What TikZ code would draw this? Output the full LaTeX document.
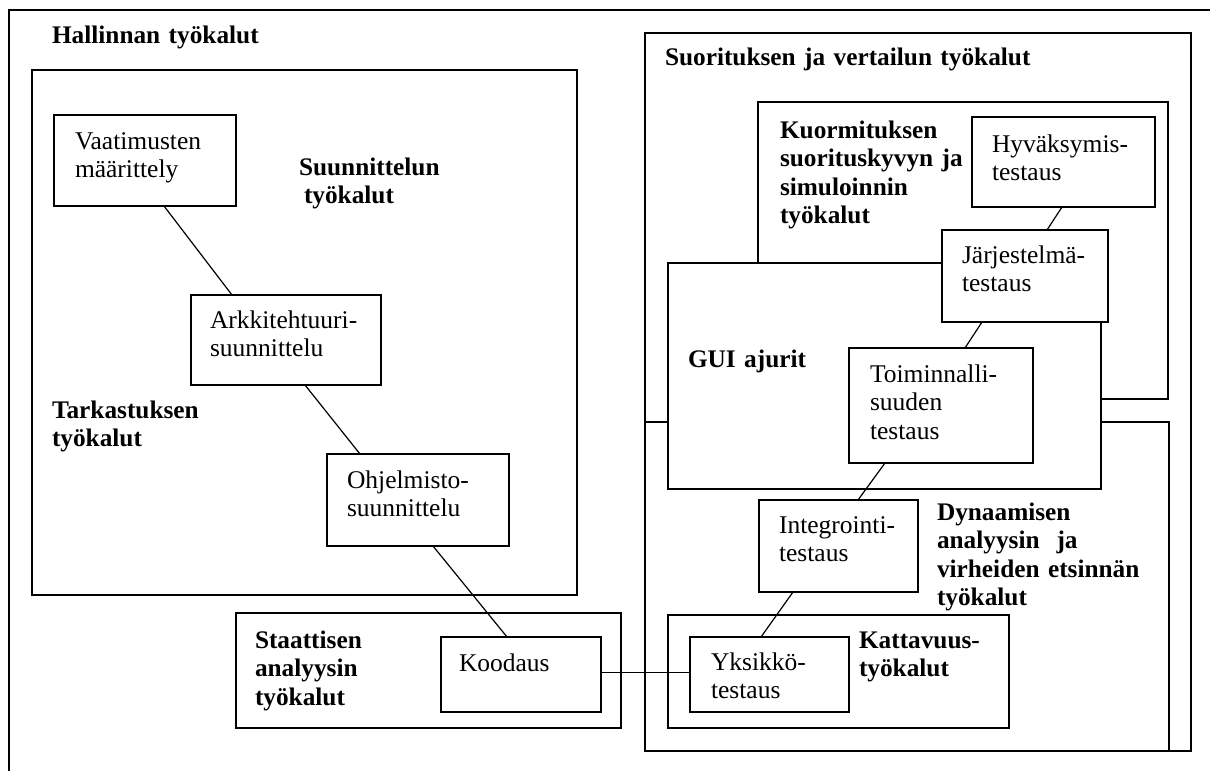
\documentclass[tikz,border=0pt]{standalone}
\usepackage{fontspec}
\setmainfont{Liberation Serif}
\begin{document}
\begin{tikzpicture}[x=1pt,y=-1pt,
  frame/.style={line width=1.5pt},
  box/.style={draw, line width=1.5pt, rectangle, inner sep=0pt, outer sep=0pt, anchor=north west},
  whitebox/.style={box, fill=white},
  link/.style={line width=1.2pt},
  txt/.style={anchor=base west, inner sep=0pt, outer sep=0pt, text width=520pt, align=left,
              font=\fontsize{25.5}{28.5}\selectfont},
  head/.style={txt, font=\fontsize{25.3}{28.5}\selectfont\bfseries}]
\useasboundingbox (0,0) rectangle (1210,771);

% outer frame (open to the right and bottom)
\coordinate (ftl) at (9,10);
\coordinate (ftr) at (1210,10);
\coordinate (fbl) at (9,771);
\draw[frame] (ftr) -- (ftl) -- (fbl);
\node[head] (hallinta) at (52,43) {Hallinnan työkalut};

% design tools
\node[box, minimum width=545pt, minimum height=525pt] (suun) at (32,70) {};
\node[head] (suunlbl) at (299,175) {Suunnittelun\\\hspace*{5pt}työkalut};
\node[head] (tark) at (52,418) {Tarkastuksen\\työkalut};

\node[box, minimum width=182pt, minimum height=91pt] (vaat) at (54,115) {};
\node[txt] at (75,149) {Vaatimusten\\määrittely};
\node[box, minimum width=190pt, minimum height=90pt] (ark) at (191,295) {};
\node[txt] at (210,328) {Arkkitehtuuri-\\suunnittelu};
\node[box, minimum width=182pt, minimum height=92pt] (ohj) at (327,454) {};
\node[txt] at (347,488) {Ohjelmisto-\\suunnittelu};

% static analysis
\node[box, minimum width=385pt, minimum height=115pt] (staat) at (236,613) {};
\node[head] at (255,648) {Staattisen\\analyysin\\työkalut};
\node[box, minimum width=160pt, minimum height=75pt] (kood) at (441,637) {};
\node[txt] at (459,671) {Koodaus};

% execution and comparison tools
\node[box, minimum width=546pt, minimum height=718pt] (suor) at (645,33) {};
\node[head] at (665,65) {Suorituksen ja vertailun työkalut};
\node[box, minimum width=410pt, minimum height=297pt] (kuor) at (758,102) {};
\node[head] at (780,138) {Kuormituksen\\suorituskyvyn ja\\simuloinnin\\työkalut};
\node[box, minimum width=524pt, minimum height=329pt] (dyn) at (645,422) {};
\node[head] at (937,520) {Dynaamisen\\analyysin\ \ ja\\virheiden etsinnän\\työkalut};

\node[whitebox, minimum width=433pt, minimum height=226pt] (gui) at (668,263) {};
\node[head] at (688,367) {GUI ajurit};

\node[box, minimum width=183pt, minimum height=90pt] (hyv) at (972,117) {};
\node[txt] at (992,152) {Hyväksymis-\\testaus};
\node[whitebox, minimum width=166pt, minimum height=92pt] (jar) at (942,230) {};
\node[txt] at (962,263) {Järjestelmä-\\testaus};
\node[box, minimum width=184pt, minimum height=115pt] (toim) at (849,348) {};
\node[txt] at (870,382) {Toiminnalli-\\suuden\\testaus};
\node[box, minimum width=159pt, minimum height=92pt] (int) at (759,500) {};
\node[txt] at (779,533) {Integrointi-\\testaus};

\node[box, minimum width=341pt, minimum height=113pt] (katt) at (668,615) {};
\node[head] at (859,648) {Kattavuus-\\työkalut};
\node[box, minimum width=159pt, minimum height=75pt] (yks) at (690,637) {};
\node[txt] at (711,670) {Yksikkö-\\testaus};

% connectors between phases
\draw[link] ([xshift=110pt]vaat.south west) -- ([xshift=41pt]ark.north west);
\draw[link] ([xshift=114pt]ark.south west) -- ([xshift=33pt]ohj.north west);
\draw[link] ([xshift=106pt]ohj.south west) -- ([xshift=66pt]kood.north west);
\draw[link] ([yshift=2pt]kood.east) -- ([yshift=2pt]yks.west);
\draw[link] ([xshift=34pt]int.south west) -- ([xshift=71pt]yks.north west);
\draw[link] ([xshift=99pt]int.north west) -- ([xshift=36pt]toim.south west);
\draw[link] ([xshift=116pt]toim.north west) -- ([xshift=40pt]jar.south west);
\draw[link] ([xshift=105pt]jar.north west) -- ([xshift=90pt]hyv.south west);
\end{tikzpicture}
\end{document}
